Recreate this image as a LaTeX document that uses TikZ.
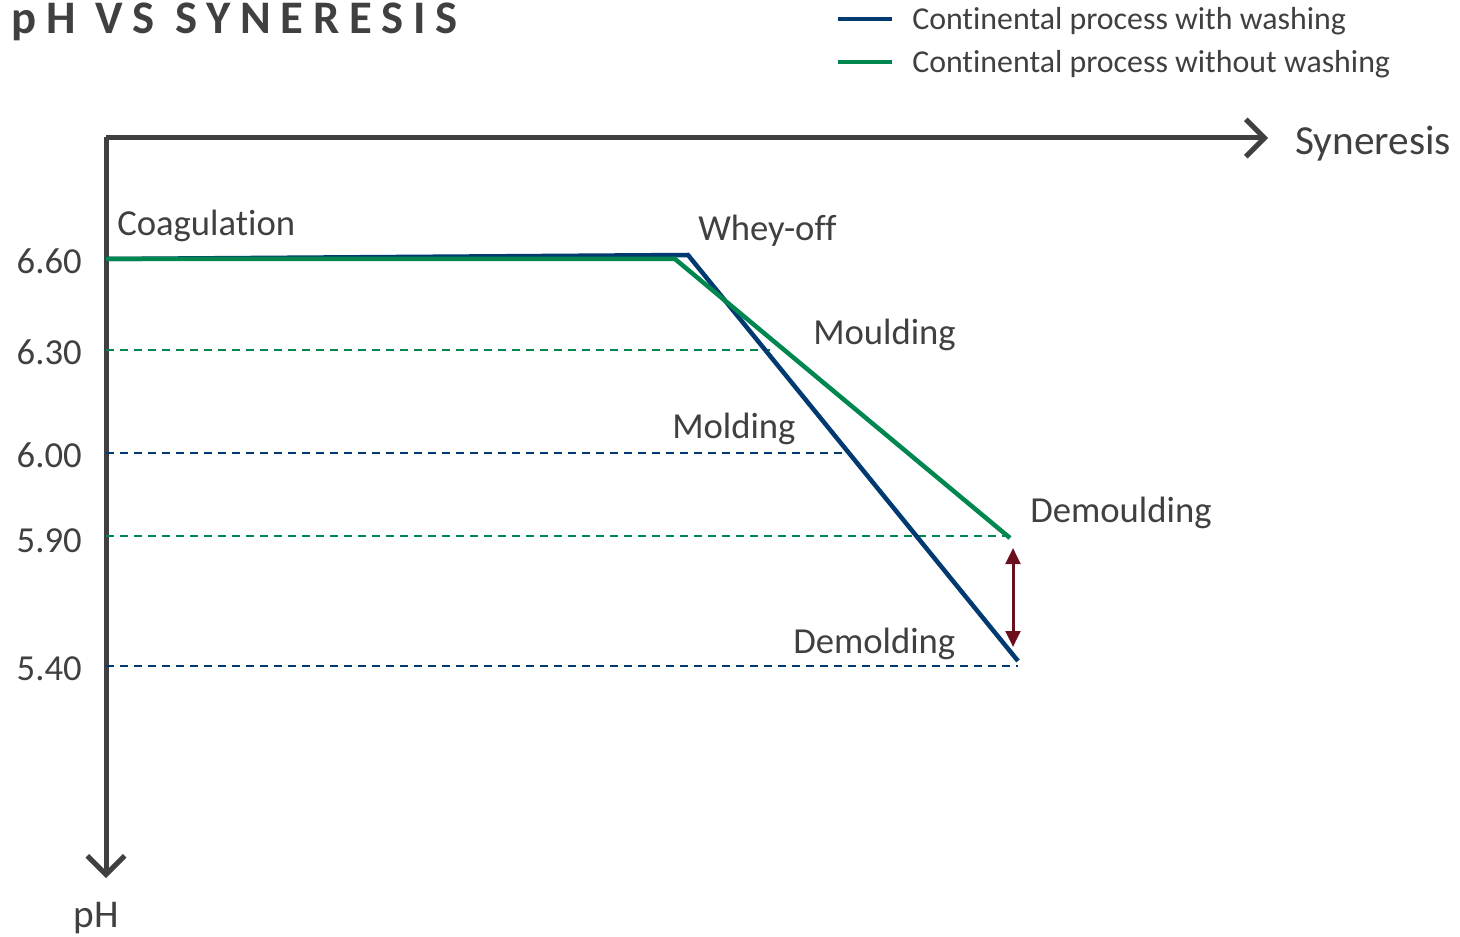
\documentclass[tikz,border=0pt]{standalone}
\usepackage{fontspec}
\setmainfont{Carlito}[Ligatures={NoCommon}]
\usetikzlibrary{arrows.meta}
\definecolor{axisgray}{HTML}{404040}
\definecolor{washblue}{HTML}{003A70}
\definecolor{nowashgreen}{HTML}{00874F}
\definecolor{gapred}{HTML}{6B0F1F}
\tikzset{
  lbl/.style={text=axisgray,font=\fontsize{27.5}{30}\selectfont,inner sep=0pt},
  ticklbl/.style={lbl,anchor=east},
  guide/.style={line width=1.5pt*0.75,dash pattern=on 6pt off 4.5pt},
  curve/.style={line width=4.5pt*0.75,line join=miter},
}
\begin{document}
\begin{tikzpicture}[x=0.75pt,y=-0.75pt]
      \useasboundingbox (0,0) rectangle (1460,937);
      % title and legend
      \node[anchor=base west,inner sep=0pt,text=axisgray,
        font=\fontsize{35}{38}\selectfont\bfseries\addfontfeature{LetterSpace=21}]
        (title) at (11,34) {pH VS SYNERESIS};
      \coordinate (leg1a) at (838,19);
      \coordinate (leg1b) at (892,19);
      \coordinate (leg2a) at (838,62);
      \coordinate (leg2b) at (892,62);
      \draw[curve,washblue] (leg1a) -- (leg1b);
      \draw[curve,nowashgreen] (leg2a) -- (leg2b);
      \node[lbl,anchor=west,font=\fontsize{23.9}{26}\selectfont] (leg1) at (912,21) {Continental process with washing};
      \node[lbl,anchor=west,font=\fontsize{23.9}{26}\selectfont] (leg2) at (912,64) {Continental process without washing};
      % axes
      \coordinate (origin) at (106,137);
      \coordinate (xend) at (1268,138);
      \coordinate (yend) at (106,878);
      \draw[line width=5pt*0.75,axisgray,-{Straight Barb[length=14pt,width=28pt]}]
        (106,138) -- (xend);
      \draw[line width=5pt*0.75,axisgray,-{Straight Barb[length=14pt,width=28pt]}]
        (origin) -- (yend);
      \node[lbl,anchor=west,font=\fontsize{31}{34}\selectfont] (xlbl) at (1295,144) {Syneresis};
      \node[lbl,anchor=base,font=\fontsize{29.5}{32}\selectfont] (ylbl) at (96,927) {pH};
      % tick labels
      \draw
        (82,261) node[ticklbl] (t660){6.60}
        (82,352) node[ticklbl] (t630){6.30}
        (82,455) node[ticklbl] (t600){6.00}
        (82,541) node[ticklbl] (t590){5.90}
        (82,669) node[ticklbl] (t540){5.40};
      % curve points
      \coordinate (start) at (106,259);
      \coordinate (bwhey) at (688,255);
      \coordinate (bend) at (1018,661);
      \coordinate (gwhey) at (675,259);
      \coordinate (gend) at (1010,538);
      % guide lines
      \coordinate (g630) at (106,350);
      \coordinate (g600) at (106,453);
      \coordinate (g590) at (106,536);
      \coordinate (g540) at (106,666);
      \begin{scope}[guide]
        \draw[nowashgreen] (g630) -- (770,350);
        \draw[washblue] (g600) -- (845,453);
        \draw[nowashgreen] (g590) -- (1010,536);
        \draw[washblue] (g540) -- (1018,666);
      \end{scope}
      % curves
      \draw[curve,washblue] (start) -- (bwhey) -- (bend);
      \draw[curve,nowashgreen] (start) -- (gwhey) -- (gend);
      % gap arrow
      \coordinate (gaptop) at (1013,548);
      \coordinate (gapbot) at (1013,647);
      \draw[line width=3pt*0.75,gapred,{Triangle[length=12pt,width=11pt]}-{Triangle[length=12pt,width=11pt]}]
        (gaptop) -- (gapbot);
      % stage labels
      \draw
        (117,226) node[lbl,anchor=west] (coag){Coagulation}
        (698,231) node[lbl,anchor=west] (whey){Whey-off}
        (813,335) node[lbl,anchor=west] (mould){Moulding}
        (672,429) node[lbl,anchor=west] (mold){Molding}
        (1030,513) node[lbl,anchor=west] (demould){Demoulding}
        (793,644) node[lbl,anchor=west] (demold){Demolding};
    \end{tikzpicture}
\end{document}
